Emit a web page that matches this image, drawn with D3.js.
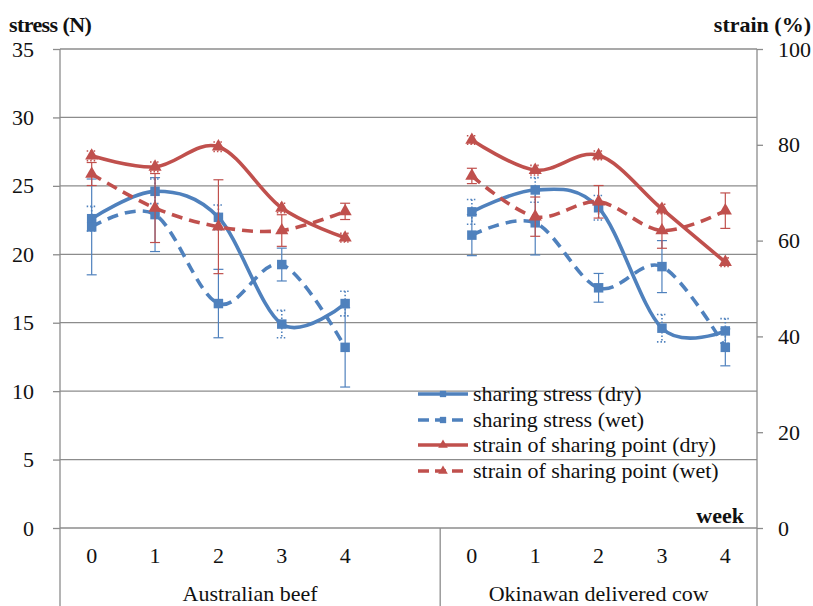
<!DOCTYPE html>
<html>
<head>
<meta charset="utf-8">
<script src="https://cdn.jsdelivr.net/npm/d3@7"></script>
<style>
  body { margin: 0; background: #fff; }
</style>
</head>
<body>
<svg id="chart" width="813" height="606"></svg>
<script>
// categories
var weeks = ["0", "1", "2", "3", "4"];
var groups = ["Australian beef", "Okinawan delivered cow"];
var stressTicks = [0, 5, 10, 15, 20, 25, 30, 35];
var strainTicks = [0, 20, 40, 60, 80, 100];

// Australian beef
var ausStressDry = [22.6, 24.6, 22.7, 14.9, 16.4];
var ausStressDryErr = [0.9, 0.9, 0.9, 1.0, 0.9];
var ausStressWet = [22.0, 22.9, 16.4, 19.25, 13.2];
var ausStressWetErr = [3.5, 2.7, 2.5, 1.2, 2.9];
var ausStrainDry = [77.7, 75.4, 79.6, 66.8, 60.6];
var ausStrainDryErr = [1.0, 1.0, 1.0, 1.0, 0.9];
var ausStrainWet = [73.9, 66.8, 62.9, 62.1, 66.1];
var ausStrainWetErr = [2.4, 7.2, 9.8, 3.3, 1.7];

// Okinawan delivered cow
var okiStressDry = [23.1, 24.7, 23.4, 14.6, 14.4];
var okiStressDryErr = [0.9, 0.9, 0.9, 1.0, 0.9];
var okiStressWet = [21.4, 22.3, 17.55, 19.1, 13.2];
var okiStressWetErr = [1.5, 2.35, 1.05, 1.9, 1.35];
var okiStrainDry = [81.0, 74.7, 77.8, 66.6, 55.5];
var okiStrainDryErr = [0.9, 1.0, 0.9, 1.0, 0.9];
var okiStrainWet = [73.5, 65.0, 68.1, 62.1, 66.25];
var okiStrainWetErr = [1.6, 4.1, 3.4, 3.7, 3.7];

var blue = "#4f81bd", red = "#c0504d", gridCol = "#8c8c8c";
var serif = "'Liberation Serif', 'Times New Roman', 'DejaVu Serif', 'Noto Serif', serif";

var svg = d3.select("#chart").attr("font-family", serif);

// pick a font size so the longest legend entry is about as wide as in the picture
var probe = svg.append("text").attr("font-size", 22).text("strain of sharing point (wet)");
var fs = Math.min(22, 22 * 255 / probe.node().getComputedTextLength());
probe.remove();

var pLeft = 60, pRight = 757, pTop = 49, pBottom = 528;

// 11 slots: 5 weeks, blank, 5 weeks
var slots = weeks.map(w => "A" + w).concat(["gap"], weeks.map(w => "O" + w));
var x = d3.scaleBand().domain(slots).range([pLeft, pRight]).padding(0);
var yS = d3.scaleLinear().domain([0, 35]).range([pBottom, pTop]);
var yP = d3.scaleLinear().domain([0, 100]).range([pBottom, pTop]);
var cx = k => x(k) + x.bandwidth() / 2;
var split = x("gap") + x.bandwidth();

// gridlines
svg.append("g").selectAll("line")
  .data(stressTicks)
  .enter().append("line")
  .attr("x1", pLeft).attr("x2", pRight)
  .attr("y1", d => yS(d)).attr("y2", d => yS(d))
  .attr("stroke", gridCol).attr("stroke-width", 1.3);

// left axis
var axL = svg.append("g").attr("transform", "translate(" + pLeft + ",0)")
  .call(d3.axisLeft(yS).tickValues(stressTicks).tickSize(7).tickPadding(19));
axL.attr("font-family", serif).attr("font-size", fs);
axL.select(".domain").remove();
axL.selectAll("line").attr("stroke", gridCol).attr("stroke-width", 1.3);
axL.selectAll("text").attr("fill", "#111");

// right axis
var axR = svg.append("g").attr("transform", "translate(" + pRight + ",0)")
  .call(d3.axisRight(yP).tickValues(strainTicks).tickSize(6).tickPadding(15));
axR.attr("font-family", serif).attr("font-size", fs);
axR.select(".domain").remove();
axR.selectAll("line").attr("stroke", gridCol).attr("stroke-width", 1.3);
axR.selectAll("text").attr("fill", "#111");

// frame verticals
[[pLeft, pTop, 606], [pRight, pTop, 606], [split, pBottom, 606]].forEach(function (v) {
  svg.append("line").attr("x1", v[0]).attr("x2", v[0]).attr("y1", v[1]).attr("y2", v[2])
    .attr("stroke", gridCol).attr("stroke-width", 1.3);
});

// week labels
svg.append("g").selectAll("text")
  .data(slots.filter(k => k !== "gap"))
  .enter().append("text")
  .attr("x", d => cx(d)).attr("y", 563)
  .attr("text-anchor", "middle").attr("font-size", fs).attr("fill", "#111")
  .text(d => d.slice(1));

// group labels
svg.append("text").attr("x", (pLeft + split) / 2).attr("y", 601)
  .attr("text-anchor", "middle").attr("font-size", fs).attr("fill", "#111").text(groups[0]);
svg.append("text").attr("x", (split + pRight) / 2).attr("y", 601)
  .attr("text-anchor", "middle").attr("font-size", fs).attr("fill", "#111").text(groups[1]);

// axis titles
svg.append("text").attr("x", 9).attr("y", 32).attr("font-size", fs).attr("font-weight", "bold")
  .attr("fill", "#111").attr("letter-spacing", -0.6).text("stress (N)");
svg.append("text").attr("x", 811).attr("y", 32).attr("font-size", fs).attr("font-weight", "bold")
  .attr("text-anchor", "end").attr("fill", "#111").text("strain (%)");
svg.append("text").attr("x", 744).attr("y", 523).attr("font-size", fs).attr("font-weight", "bold")
  .attr("text-anchor", "end").attr("fill", "#111").text("week");

var series = [
  { name: "sharing stress (dry)", color: blue, dash: null, shape: d3.symbolSquare, y: yS, dotted: true,
    parts: [["A", ausStressDry, ausStressDryErr], ["O", okiStressDry, okiStressDryErr]] },
  { name: "sharing stress (wet)", color: blue, dash: "11,7", shape: d3.symbolSquare, y: yS, dotted: false,
    parts: [["A", ausStressWet, ausStressWetErr], ["O", okiStressWet, okiStressWetErr]] },
  { name: "strain of sharing point (dry)", color: red, dash: null, shape: d3.symbolTriangle, y: yP, dotted: true,
    parts: [["A", ausStrainDry, ausStrainDryErr], ["O", okiStrainDry, okiStrainDryErr]] },
  { name: "strain of sharing point (wet)", color: red, dash: "11,7", shape: d3.symbolTriangle, y: yP, dotted: false,
    parts: [["A", ausStrainWet, ausStrainWetErr], ["O", okiStrainWet, okiStrainWetErr]] }
];

var plot = svg.append("g");

series.forEach(function (s) {
  s.parts.forEach(function (p) {
    var pts = p[1].map((v, i) => ({ k: p[0] + weeks[i], v: v, e: p[2][i] }));
    var g = plot.append("g");

    // error bars
    var eb = g.selectAll(".eb").data(pts).enter().append("g")
      .attr("stroke", s.color)
      .attr("stroke-width", s.dotted ? 1.6 : 1.2)
      .attr("stroke-dasharray", s.dotted ? "1.5,2" : null);
    eb.append("line")
      .attr("x1", d => cx(d.k)).attr("x2", d => cx(d.k))
      .attr("y1", d => s.y(d.v + d.e)).attr("y2", d => s.y(d.v - d.e));
    [1, -1].forEach(function (sg) {
      eb.append("line")
        .attr("x1", d => cx(d.k) - 5).attr("x2", d => cx(d.k) + 5)
        .attr("y1", d => s.y(d.v + sg * d.e)).attr("y2", d => s.y(d.v + sg * d.e));
    });

    g.append("path").datum(pts)
      .attr("fill", "none").attr("stroke", s.color).attr("stroke-width", 3.6)
      .attr("stroke-dasharray", s.dash)
      .attr("d", d3.line().curve(d3.curveCardinal.tension(0))
        .x(d => cx(d.k)).y(d => s.y(d.v)));

    g.selectAll(".mk").data(pts).enter().append("path")
      .attr("transform", d => "translate(" + cx(d.k) + "," + s.y(d.v) + ")")
      .attr("d", d3.symbol().type(s.shape).size(s.shape === d3.symbolSquare ? 90 : 75))
      .attr("fill", s.color);
  });
});

// legend
var leg = svg.append("g");
var legY = [394, 420, 445, 471];
series.forEach(function (s, i) {
  var r = leg.append("g").attr("transform", "translate(0," + legY[i] + ")");
  r.append("line").attr("x1", 418).attr("x2", 468).attr("y1", 0).attr("y2", 0)
    .attr("stroke", s.color).attr("stroke-width", 3.6)
    .attr("stroke-dasharray", s.dash ? "11,6" : null);
  r.append("path").attr("transform", "translate(443,0)")
    .attr("d", d3.symbol().type(s.shape).size(40)).attr("fill", s.color);
  r.append("text").attr("x", 473).attr("y", 7).attr("font-size", fs).attr("fill", "#111").text(s.name);
});
</script>
</body>
</html>
